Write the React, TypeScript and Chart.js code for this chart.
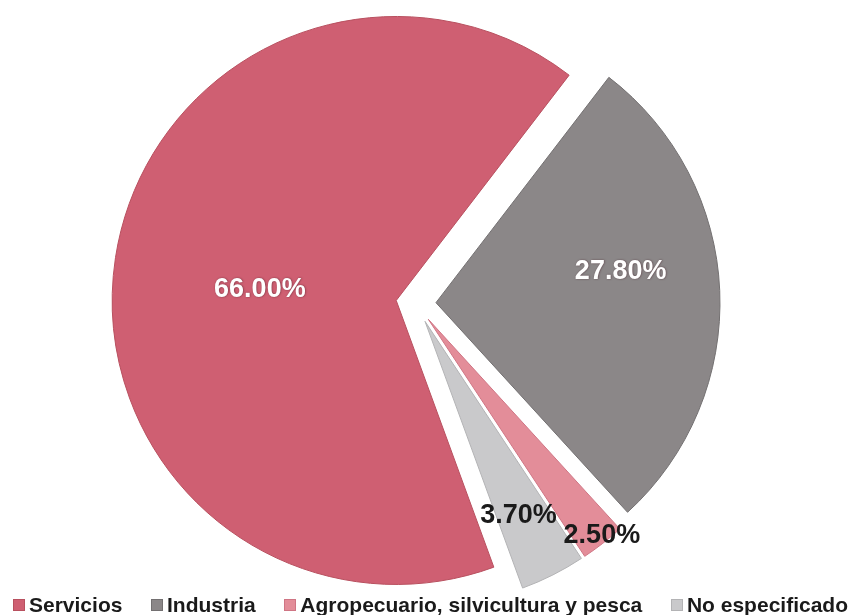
import React, { useEffect, useRef } from "react";
import { Chart, registerables } from "chart.js";

Chart.register(...registerables);

const CATEGORIES = [
  "Servicios",
  "Industria",
  "Agropecuario, silvicultura y pesca",
  "No especificado",
];
const SHARES = [66.0, 27.8, 2.5, 3.7];
const COLORS = ["#cf5f72", "#8b8788", "#e38d99", "#c9c9cb"];
const BORDERS = ["#b8505f", "#737071", "#cf7584", "#b3b3b5"];
const LABEL_COLORS = ["#ffffff", "#ffffff", "#1a1a1a", "#1a1a1a"];

// layout / style config (not data)
const EXPLODE_PX = [20, 20, 20, 20];
const LABEL_FRAC = [0.482, 0.66, 0.975, 0.757];
const LABEL_ANGLE_DELTA = [-3.7, -7.4, -0.9, 1.0];

const explodePlugin = {
  id: "explodeSlices",
  afterDatasetUpdate(chart: any, args: any) {
    const meta = args.meta;
    meta.data.forEach((el: any, i: number) => {
      const mid = (el.startAngle + el.endAngle) / 2;
      const o = EXPLODE_PX[i] || 0;
      el.x += Math.cos(mid) * o;
      el.y += Math.sin(mid) * o;
    });
  },
};

const labelPlugin = {
  id: "sliceLabels",
  afterDatasetsDraw(chart: any) {
    const ctx = chart.ctx;
    const meta = chart.getDatasetMeta(0);
    const values = chart.data.datasets[0].data as number[];
    meta.data.forEach((el: any, i: number) => {
      const mid =
        (el.startAngle + el.endAngle) / 2 +
        (LABEL_ANGLE_DELTA[i] * Math.PI) / 180;
      const r = el.outerRadius * LABEL_FRAC[i];
      const x = el.x + Math.cos(mid) * r;
      const y = el.y + Math.sin(mid) * r + 1;
      ctx.save();
      ctx.font = `bold 27px "Liberation Sans", Arial, sans-serif`;
      ctx.textAlign = "center";
      ctx.textBaseline = "middle";
      if (LABEL_COLORS[i] === "#ffffff") {
        ctx.shadowColor = "rgba(60,20,30,0.6)";
        ctx.shadowBlur = 2;
        ctx.shadowOffsetX = 0.5;
        ctx.shadowOffsetY = 0.5;
      }
      ctx.fillStyle = LABEL_COLORS[i];
      ctx.fillText(`${values[i].toFixed(2)}%`, x, y);
      ctx.restore();
    });
  },
};

export default function App() {
  const canvasRef = useRef<HTMLCanvasElement | null>(null);

  useEffect(() => {
    if (!canvasRef.current) return;
    const chart = new Chart(canvasRef.current, {
      type: "pie",
      data: {
        labels: CATEGORIES,
        datasets: [
          {
            data: SHARES,
            backgroundColor: COLORS,
            borderColor: BORDERS,
            borderWidth: 1,
            radius: 284,
          } as any,
        ],
      },
      options: {
        responsive: false,
        animation: false,
        rotation: 159.9,
        layout: { padding: { left: 0, right: 20, top: 0, bottom: 8 } },
        plugins: {
          legend: { display: false },
          tooltip: { enabled: false },
          title: { display: false },
        },
      },
      plugins: [explodePlugin, labelPlugin],
    });
    return () => chart.destroy();
  }, []);

  return (
    <div
      style={{
        position: "fixed",
        left: 0,
        top: 0,
        width: 852,
        height: 615,
        background: "#ffffff",
        overflow: "hidden",
      }}
    >
      <canvas
        ref={canvasRef}
        width={852}
        height={615}
        style={{ display: "block", width: 852, height: 615 }}
      />
      <div
        style={{
          position: "absolute",
          left: 13,
          right: 4,
          top: 594,
          height: 21,
          display: "flex",
          justifyContent: "space-between",
          alignItems: "center",
          fontFamily: '"Liberation Sans", Arial, sans-serif',
          fontWeight: "bold",
          fontSize: 21,
          lineHeight: "21px",
          color: "#1a1a1a",
          whiteSpace: "nowrap",
        }}
      >
        {CATEGORIES.map((c, i) => (
          <div key={c} style={{ display: "flex", alignItems: "center" }}>
            <span
              style={{
                display: "inline-block",
                width: 10,
                height: 10,
                background: COLORS[i],
                border: `1px solid ${BORDERS[i]}`,
                marginRight: 4,
              }}
            />
            <span>{c}</span>
          </div>
        ))}
      </div>
    </div>
  );
}
